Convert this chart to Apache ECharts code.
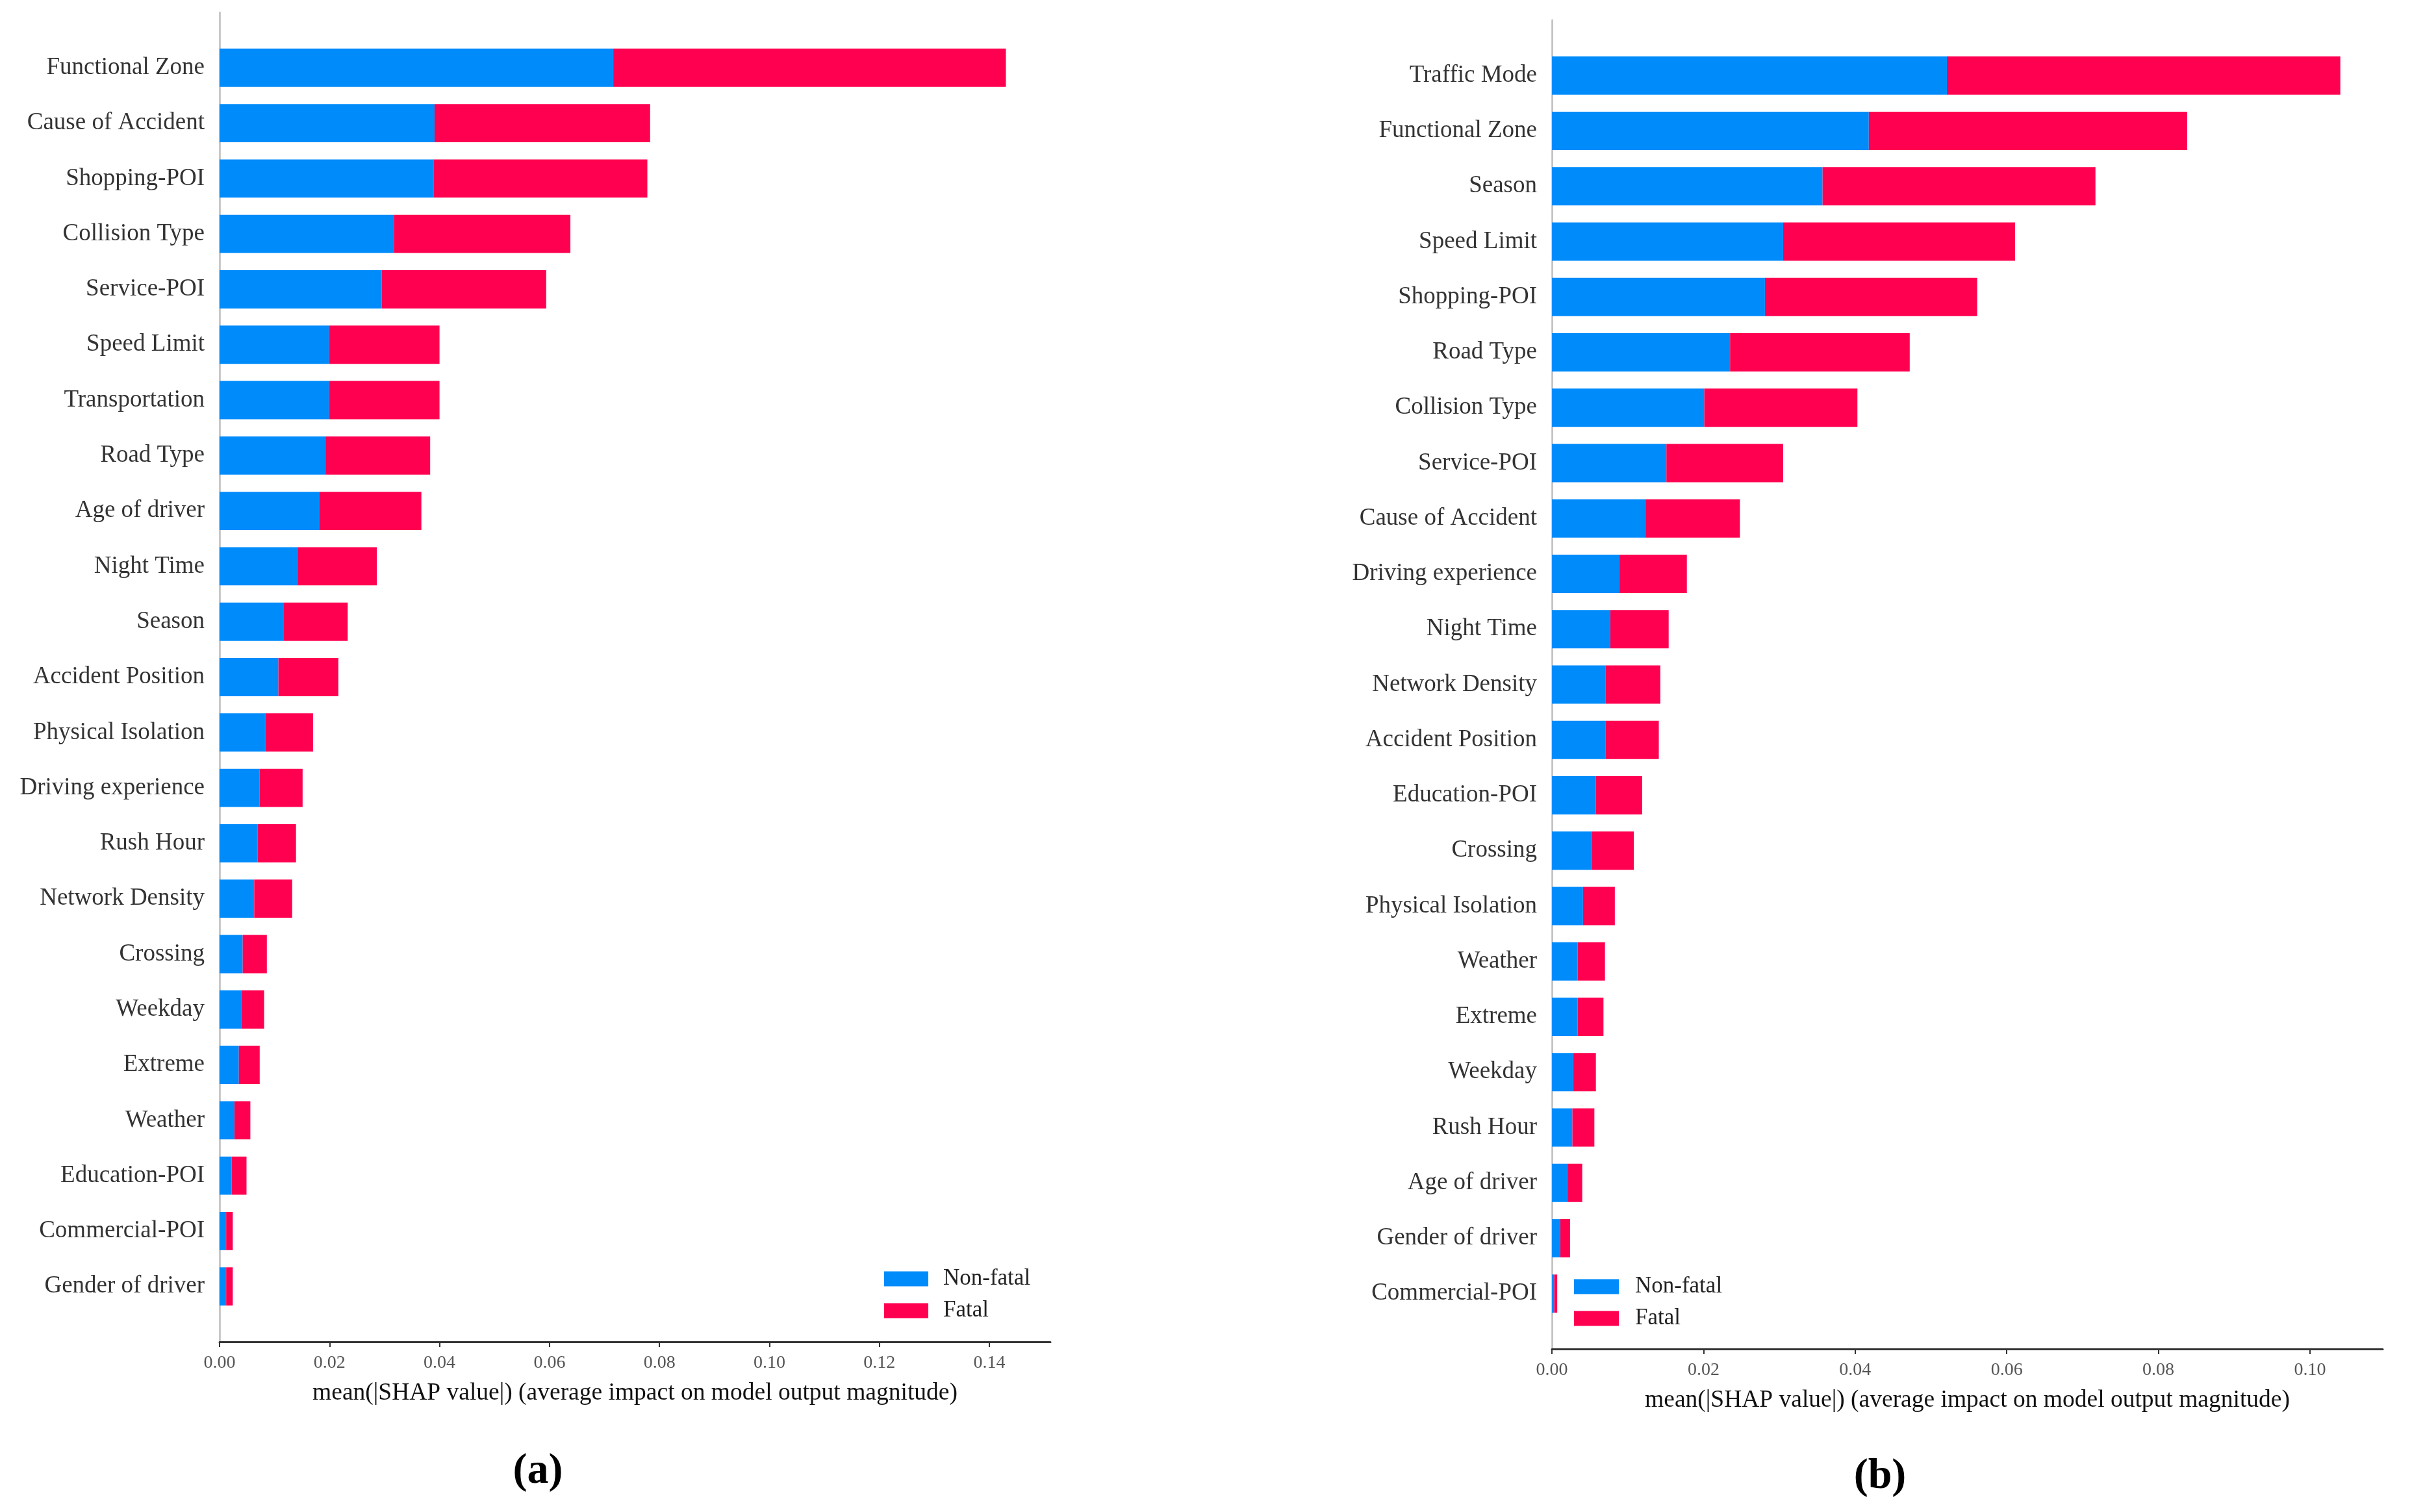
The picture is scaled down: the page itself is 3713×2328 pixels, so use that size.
<!DOCTYPE html>
<html>
<head>
<meta charset="utf-8">
<style>
html,body{margin:0;padding:0;background:#fff;}
#c{width:3713px;height:2328px;}
</style>
<script src="https://cdn.jsdelivr.net/npm/echarts@6/dist/echarts.min.js"></script>
</head>
<body>
<div id="c"></div>
<script>
// ---- Panel (a) data ----
const catsA = ['Functional Zone','Cause of Accident','Shopping-POI','Collision Type','Service-POI','Speed Limit','Transportation','Road Type','Age of driver','Night Time','Season','Accident Position','Physical Isolation','Driving experience','Rush Hour','Network Density','Crossing','Weekday','Extreme','Weather','Education-POI','Commercial-POI','Gender of driver'];
const nonFatalA = [0.0716,0.0391,0.0389,0.0317,0.0295,0.0199,0.0199,0.0192,0.0181,0.0141,0.0116,0.0107,0.0083,0.0073,0.0069,0.0063,0.0042,0.0040,0.0035,0.0027,0.0022,0.0012,0.0012];
const fatalA    = [0.0714,0.0392,0.0389,0.0321,0.0299,0.0201,0.0201,0.0191,0.0186,0.0145,0.0117,0.0109,0.0087,0.0078,0.0070,0.0069,0.0044,0.0041,0.0038,0.0029,0.0027,0.0012,0.0012];
const ticksA = [0,0.02,0.04,0.06,0.08,0.10,0.12,0.14];
const maxA = 0.1511;

// ---- Panel (b) data ----
const catsB = ['Traffic Mode','Functional Zone','Season','Speed Limit','Shopping-POI','Road Type','Collision Type','Service-POI','Cause of Accident','Driving experience','Night Time','Network Density','Accident Position','Education-POI','Crossing','Physical Isolation','Weather','Extreme','Weekday','Rush Hour','Age of driver','Gender of driver','Commercial-POI'];
const nonFatalB = [0.0521,0.0418,0.0357,0.0305,0.0281,0.0235,0.0201,0.0151,0.0123,0.0089,0.0077,0.0071,0.0071,0.0058,0.0053,0.0041,0.0034,0.0034,0.0028,0.0027,0.0020,0.0011,0.0003];
const fatalB    = [0.0519,0.0420,0.0360,0.0306,0.0280,0.0237,0.0202,0.0154,0.0125,0.0089,0.0077,0.0072,0.0070,0.0061,0.0055,0.0042,0.0036,0.0034,0.0030,0.0029,0.0020,0.0013,0.0004];
const ticksB = [0,0.02,0.04,0.06,0.08,0.10];
const maxB = 0.1096;

const seriesNames = ['Non-fatal','Fatal'];
const axisTitle = 'mean(|SHAP value|) (average impact on model output magnitude)';

const BLUE = '#008bfb', RED = '#ff0051';
const FONT = '"Liberation Serif","Times New Roman",serif';

const pad = arr => [null, ...arr, null];
const padCats = arr => ['', ...arr, ''];

function xAx(gridIndex, max, ticks){
  return {
    type:'value', gridIndex, min:0, max,
    name: axisTitle, nameLocation:'middle', nameGap:60,
    nameTextStyle:{fontFamily:FONT, fontSize:37.5, color:'#111'},
    axisLine:{show:true, lineStyle:{color:'#333', width:3}},
    axisTick:{show:true, length:8, lineStyle:{color:'#333', width:2}, customValues:ticks},
    axisLabel:{fontFamily:FONT, fontSize:28, color:'#555', margin:19, customValues:ticks,
      formatter: v => v.toFixed(2)},
    splitLine:{show:false}
  };
}
function yAx(gridIndex, cats){
  return {
    type:'category', gridIndex, data:padCats(cats), inverse:true, boundaryGap:false,
    axisLine:{show:true, lineStyle:{color:'#bdbdbd', width:2.5}},
    axisTick:{show:false},
    axisLabel:{fontFamily:FONT, fontSize:37, color:'#333', margin:23, interval:0},
    splitLine:{show:false}
  };
}
function barS(name, xi, data, color, stack){
  return {type:'bar', name, xAxisIndex:xi, yAxisIndex:xi, stack, data:pad(data),
    barWidth:'69%', itemStyle:{color}, emphasis:{disabled:true}};
}

const chart = echarts.init(document.getElementById('c'), null, {renderer:'canvas'});
chart.setOption({
  animation:false,
  backgroundColor:'#fff',
  title:[
    {text:'(a)', left:823, top:2228, textAlign:'center', textStyle:{fontFamily:FONT, fontSize:66, fontWeight:'bold', color:'#000'}},
    {text:'(b)', left:2889, top:2236, textAlign:'center', textStyle:{fontFamily:FONT, fontSize:66, fontWeight:'bold', color:'#000'}}
  ],
  grid:[
    {left:338, top:19, width:1279, height:2047},
    {left:2389, top:31, width:1279, height:2046}
  ],
  legend:[
    {data:seriesNames, orient:'vertical', left:1356, top:1946, icon:'rect', itemWidth:68, itemHeight:23, itemGap:13,
     textStyle:{fontFamily:FONT, fontSize:35, color:'#222', lineHeight:36, padding:[0,0,0,18]}},
    {data:seriesNames, orient:'vertical', left:2418, top:1958, icon:'rect', itemWidth:69, itemHeight:23, itemGap:13,
     textStyle:{fontFamily:FONT, fontSize:35, color:'#222', lineHeight:36, padding:[0,0,0,20]}}
  ],
  xAxis:[xAx(0,maxA,ticksA), xAx(1,maxB,ticksB)],
  yAxis:[yAx(0,catsA), yAx(1,catsB)],
  series:[
    barS(seriesNames[0],0,nonFatalA,BLUE,'a'),
    barS(seriesNames[1],0,fatalA,RED,'a'),
    barS(seriesNames[0],1,nonFatalB,BLUE,'b'),
    barS(seriesNames[1],1,fatalB,RED,'b')
  ]
});
</script>
</body>
</html>
